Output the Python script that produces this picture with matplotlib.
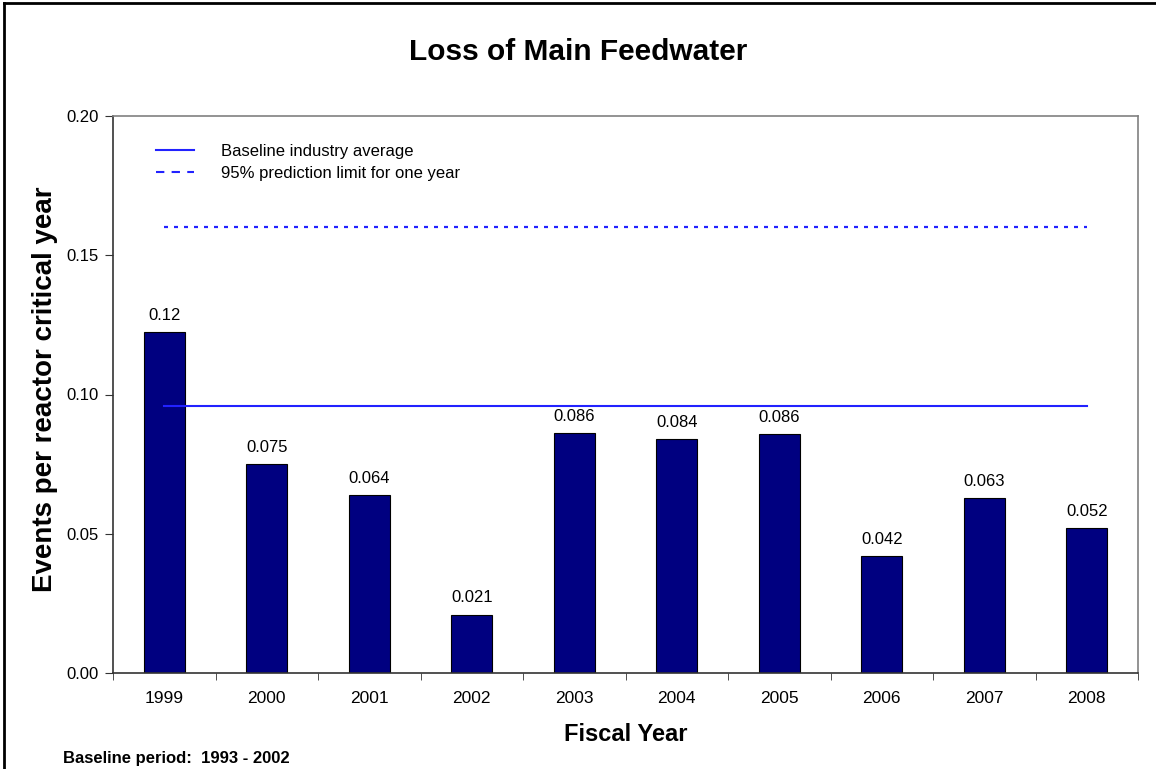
import matplotlib
matplotlib.use("Agg")
import matplotlib.pyplot as plt
from matplotlib.lines import Line2D
import numpy as np

plt.rcParams["font.family"] = ["Liberation Sans", "DejaVu Sans"]

# ── data ───────────────────────────────────────────────────────────────────────
years = ["1999", "2000", "2001", "2002", "2003", "2004", "2005", "2006", "2007", "2008"]
rates = [0.1224, 0.075, 0.064, 0.021, 0.086, 0.084, 0.0857, 0.042, 0.063, 0.052]
rate_labels = ["0.12", "0.075", "0.064", "0.021", "0.086", "0.084", "0.086", "0.042", "0.063", "0.052"]
baseline_avg = 0.0958
pred_limit = 0.160
yticks = [0.00, 0.05, 0.10, 0.15, 0.20]

BAR_COLOR = "#000080"
LINE_COLOR = "#2222ff"

# ── figure ─────────────────────────────────────────────────────────────────────
fig = plt.figure(figsize=(11.56, 7.69), dpi=100)
ax = fig.add_axes([113 / 1156, 1 - 673 / 769, (1138 - 113) / 1156, (673 - 116) / 769])

x = np.arange(len(years))
ax.bar(x, rates, width=0.4, color=BAR_COLOR, edgecolor="black", linewidth=0.8, zorder=2)
for xi, v, lab in zip(x, rates, rate_labels):
    ax.annotate(lab, (xi, v), xytext=(0, 6.5), textcoords="offset points",
                ha="center", va="bottom", fontsize=12)

ax.plot([x[0], x[-1]], [baseline_avg, baseline_avg], color=LINE_COLOR, lw=1.5, zorder=3)
ax.plot([x[0], x[-1]], [pred_limit, pred_limit], color=LINE_COLOR, lw=1.6,
        linestyle=(0, (1.8, 2.7)), zorder=3)

ax.set_xlim(-0.5, len(years) - 0.5)
ax.set_ylim(0, 0.20)
ax.set_yticks(yticks)
ax.set_yticklabels([f"{t:.2f}" for t in yticks], fontsize=12)
ax.set_xticks(x)
ax.set_xticklabels(years, fontsize=12.5)
ax.tick_params(axis="x", length=0, pad=13)
ax.set_xticks(np.arange(-0.5, len(years)), minor=True)
ax.tick_params(axis="x", which="minor", length=5, direction="out", color="#333333")
ax.tick_params(axis="y", length=6, direction="out", color="#333333", pad=4)

for s in ("left", "bottom"):
    ax.spines[s].set_color("#333333")
    ax.spines[s].set_linewidth(1.2)
for s in ("top", "right"):
    ax.spines[s].set_color("#808080")
    ax.spines[s].set_linewidth(1.2)

ax.set_xlabel("Fiscal Year", fontsize=17, fontweight="bold", labelpad=12)
fig.text(45 / 1156, 1 - 389 / 769, "Events per reactor critical year", rotation=90,
         ha="center", va="center", fontsize=20, fontweight="bold")

handles = [Line2D([], [], color=LINE_COLOR, lw=1.5),
           Line2D([], [], color=LINE_COLOR, lw=1.5, linestyle=(0, (4, 3.5)))]
ax.legend(handles, ["Baseline industry average", "95% prediction limit for one year"],
          loc="upper left", bbox_to_anchor=(0.027, 0.977), frameon=False,
          fontsize=12, handlelength=2.3, handletextpad=1.6, labelspacing=0.42)

fig.text(0.5, 1 - 52 / 769, "Loss of Main Feedwater", ha="center", va="center",
         fontsize=21.5, fontweight="bold")
fig.text(63 / 1156, 1 - 758 / 769, "Baseline period:  1993 - 2002", ha="left", va="center",
         fontsize=12, fontweight="bold")

# outer border (left and top visible in the original)
fig.add_artist(Line2D([4 / 1156, 4 / 1156], [0, 1 - 3 / 769], transform=fig.transFigure,
                      color="black", lw=2))
fig.add_artist(Line2D([4 / 1156, 1], [1 - 3 / 769, 1 - 3 / 769], transform=fig.transFigure,
                      color="black", lw=2))

fig.savefig("out.png", dpi=100)
